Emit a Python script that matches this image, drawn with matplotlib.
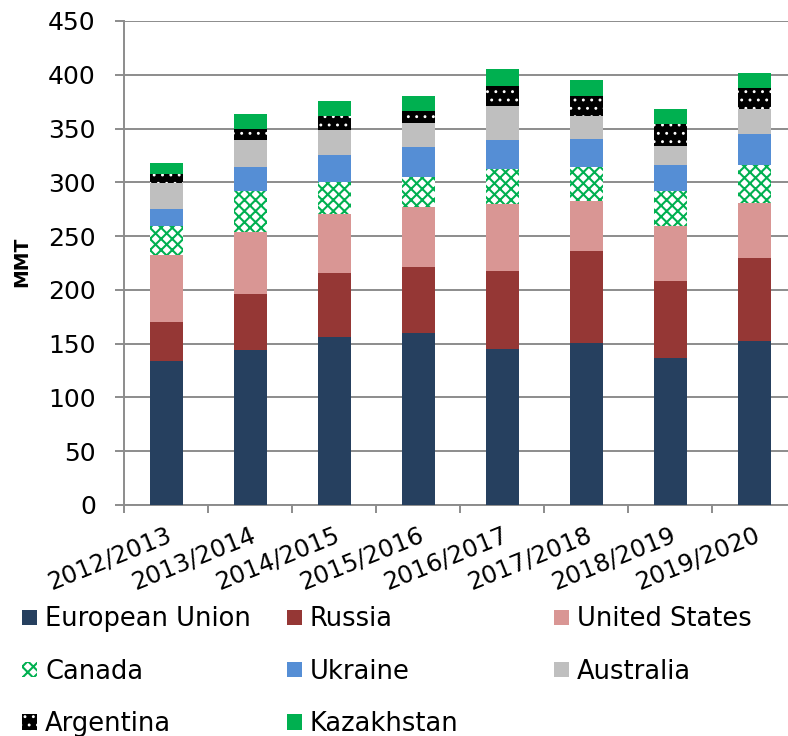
import matplotlib
matplotlib.use("Agg")
import matplotlib.pyplot as plt
from matplotlib.patches import Patch
import numpy as np

seasons = ["2012/2013", "2013/2014", "2014/2015", "2015/2016",
           "2016/2017", "2017/2018", "2018/2019", "2019/2020"]

# MMT per exporter, stacked bottom to top
european_union = [134, 144, 156, 160, 145, 150.5, 136.5, 152.5]
russia = [36.5, 52, 59.5, 61, 72.5, 85.5, 72, 77.5]
united_states = [62, 58, 55, 56.5, 62.5, 47, 51, 51]
canada = [26.5, 38, 29.5, 27.5, 32.5, 31, 32, 35]
ukraine = [16, 22, 25, 27.5, 27, 26.5, 25, 29]
australia = [24, 25, 23.5, 22.5, 31.5, 21, 17.5, 23]
argentina = [9, 11, 13.5, 11.5, 18.5, 18.5, 20, 19.5]
kazakhstan = [10, 13.5, 13.5, 13.5, 15.5, 15, 14, 14.5]

series = [
    ("European Union", european_union, dict(color="#26405f")),
    ("Russia", russia, dict(color="#953735")),
    ("United States", united_states, dict(color="#d99694")),
    ("Canada", canada, dict(color="white", edgecolor="#00b050", hatch="xxx", hlw=1.5)),
    ("Ukraine", ukraine, dict(color="#558ed5")),
    ("Australia", australia, dict(color="#bfbfbf")),
    ("Argentina", argentina, dict(color="black", edgecolor="white", hatch="..", hlw=0.9)),
    ("Kazakhstan", kazakhstan, dict(color="#00b050")),
]

plt.rcParams["font.family"] = ["DejaVu Sans"]
plt.rcParams["hatch.linewidth"] = 1.2

fig = plt.figure(figsize=(7.88, 7.36), dpi=100)
ax = fig.add_axes([0.1577, 0.3139, 0.8528, 0.6576])


def set_hlw(p, lw):
    if lw is not None and hasattr(p, "set_hatch_linewidth"):
        p.set_hatch_linewidth(lw)


x = np.arange(len(seasons))
bottom = np.zeros(len(seasons))
handles = {}
hatch_lw = {}
for name, vals, style in series:
    st = dict(style)
    fc = st.pop("color")
    ec = st.pop("edgecolor", fc)
    hatch = st.pop("hatch", None)
    hlw = st.pop("hlw", None)
    with plt.rc_context({"hatch.linewidth": hlw or 1.2}):
        bars = ax.bar(x, vals, 0.39, bottom=bottom, facecolor=fc, edgecolor=ec,
                      linewidth=0, hatch=hatch, zorder=3)
        handles[name] = Patch(facecolor=fc, edgecolor=ec, linewidth=0, hatch=hatch)
    for b in bars:
        set_hlw(b, hlw)
    hatch_lw[name] = hlw
    bottom += np.array(vals)

ax.set_xlim(-0.5, len(seasons) - 0.5)
ax.set_ylim(0, 450)
ax.set_yticks(np.arange(0, 451, 50))
ax.yaxis.grid(True, color="#8c8c8c", linewidth=1.4, zorder=0)
ax.set_axisbelow(True)

for s in ["top", "right"]:
    ax.spines[s].set_visible(False)
for s in ["left", "bottom"]:
    ax.spines[s].set_color("#8c8c8c")
    ax.spines[s].set_linewidth(1.4)

ax.tick_params(axis="y", length=6.5, width=1.4, color="#8c8c8c",
               labelsize=18, pad=14)
ax.set_xticks(x)
ax.set_xticks(np.arange(-0.5, len(seasons), 1.0), minor=True)
ax.tick_params(axis="x", which="major", length=0, labelsize=17.5, pad=13)
ax.tick_params(axis="x", which="minor", length=6, width=1.4, color="#8c8c8c")
ax.set_xticklabels(seasons, rotation=22, ha="right", va="top",
                   rotation_mode="anchor")

fig.text(0.028, 0.644, "MMT", rotation=90, fontsize=13.5, fontweight="bold",
         ha="center", va="center")

# legend laid out as three fixed columns
columns = [
    (0.028, ["European Union", "Canada", "Argentina"]),
    (0.364, ["Russia", "Ukraine", "Kazakhstan"]),
    (0.703, ["United States", "Australia"]),
]
for xpos, names in columns:
    leg = fig.legend([handles[n] for n in names], names, loc="upper left",
                     bbox_to_anchor=(xpos, 0.176), frameon=False, fontsize=18.5,
                     handlelength=0.6, handleheight=0.55, handletextpad=0.3,
                     labelspacing=1.02, borderpad=0, borderaxespad=0)
    for h, n in zip(leg.legend_handles, names):
        set_hlw(h, hatch_lw[n])

fig.savefig("out.png", dpi=100)
